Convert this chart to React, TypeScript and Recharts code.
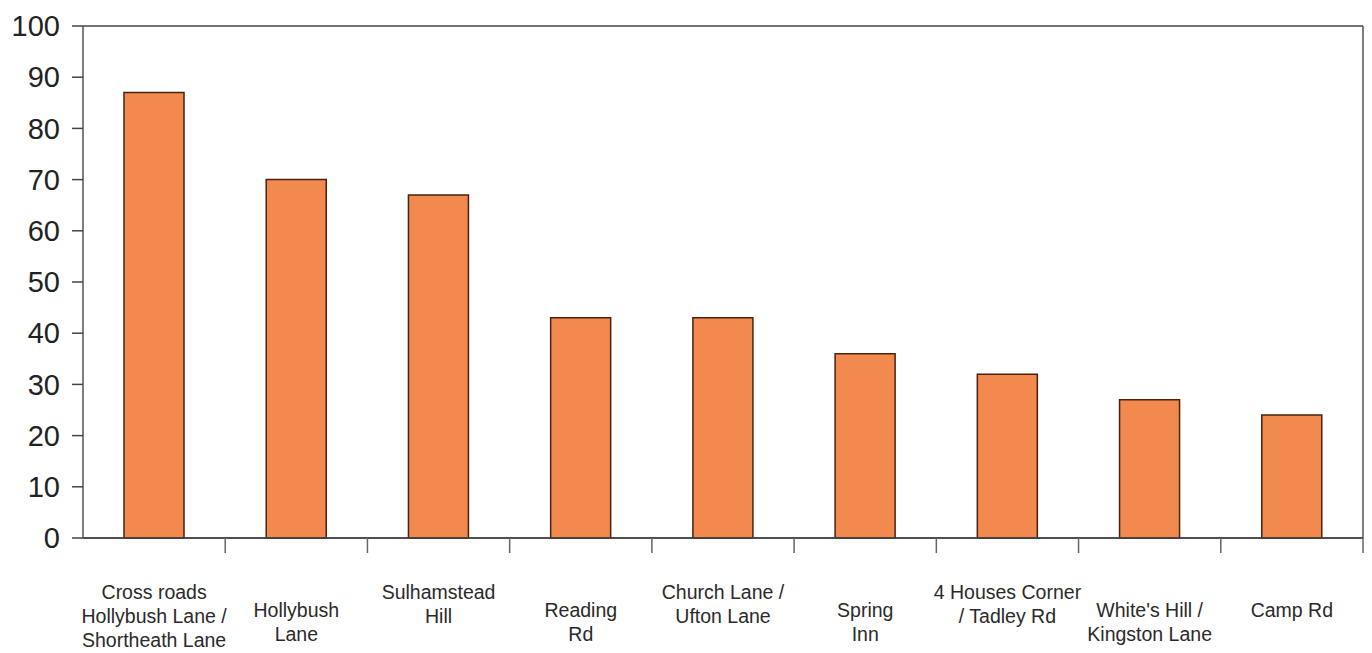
import React from 'react';
import { BarChart, Bar, XAxis, YAxis, CartesianGrid } from 'recharts';

const locations = [
  'Cross roads Hollybush Lane / Shortheath Lane',
  'Hollybush Lane',
  'Sulhamstead Hill',
  'Reading Rd',
  'Church Lane / Ufton Lane',
  'Spring Inn',
  '4 Houses Corner / Tadley Rd',
  "White's Hill / Kingston Lane",
  'Camp Rd',
];

const labelLines = [
  ['Cross roads', 'Hollybush Lane /', 'Shortheath Lane'],
  ['Hollybush', 'Lane'],
  ['Sulhamstead', 'Hill'],
  ['Reading', 'Rd'],
  ['Church Lane /', 'Ufton Lane'],
  ['Spring', 'Inn'],
  ['4 Houses Corner', '/ Tadley Rd'],
  ["White's Hill /", 'Kingston Lane'],
  ['Camp Rd'],
];

const counts = [87, 70, 67, 43, 43, 36, 32, 27, 24];

const yTicks = [0, 10, 20, 30, 40, 50, 60, 70, 80, 90, 100];

const data = locations.map((name, i) => ({ name, count: counts[i], index: i }));

const FONT = '"Liberation Sans", Arial, Helvetica, sans-serif';
const CHART_W = 1372;
const CHART_H = 653;
const PLOT_LEFT = 83;
const PLOT_RIGHT = 9;
const BAND = (CHART_W - PLOT_LEFT - PLOT_RIGHT) / locations.length;

function CategoryTick(props: any) {
  const { x, y, payload, index } = props;
  const lines = labelLines[index] || [payload.value];
  const half = payload && payload.offset ? payload.offset : BAND / 2;
  // multi-line labels in even slots sit a row higher, Excel-style stagger
  const raised = index % 2 === 0 && lines.length > 1;
  const firstBaseline = raised ? 61 : 79;
  return (
    <g>
      <line x1={x + half} x2={x + half} y1={y} y2={y + 15} stroke="#666" strokeWidth={1.5} />
      <text textAnchor="middle" fontFamily={FONT} fontSize={19.5} fill="#2a2a2a">
        {lines.map((ln: string, i: number) => (
          <tspan key={i} x={x} y={y + firstBaseline + i * 24}>
            {ln}
          </tspan>
        ))}
      </text>
    </g>
  );
}

export default function App() {
  return (
    <div style={{ width: CHART_W, height: CHART_H, background: '#fff' }}>
      <style>{'body{margin:0}'}</style>
      <BarChart
        width={CHART_W}
        height={CHART_H}
        data={data}
        margin={{ top: 26, right: 0, bottom: 0, left: 0 }}
        barSize={60}
      >
        <CartesianGrid vertical={false} stroke="#444" strokeWidth={1.5} />
        <XAxis
          dataKey="name"
          interval={0}
          height={115}
          tickSize={0}
          tickMargin={0}
          tickLine={false}
          axisLine={{ stroke: '#444', strokeWidth: 1.5 }}
          tick={<CategoryTick />}
        />
        <YAxis
          yAxisId="left"
          width={PLOT_LEFT}
          domain={[0, 100]}
          ticks={yTicks}
          interval={0}
          tickSize={11}
          tickMargin={12}
          tickLine={{ stroke: '#444', strokeWidth: 1.5 }}
          axisLine={{ stroke: '#555', strokeWidth: 1.5 }}
          tick={{ fontFamily: FONT, fontSize: 29, fill: '#222' }}
        />
        <YAxis
          yAxisId="right"
          orientation="right"
          width={PLOT_RIGHT}
          domain={[0, 100]}
          tick={false}
          tickLine={false}
          axisLine={{ stroke: '#555', strokeWidth: 1.5 }}
        />
        <Bar
          yAxisId="left"
          dataKey="count"
          fill="#F2894F"
          stroke="#4a220e"
          strokeWidth={1.5}
          isAnimationActive={false}
        />
      </BarChart>
    </div>
  );
}
